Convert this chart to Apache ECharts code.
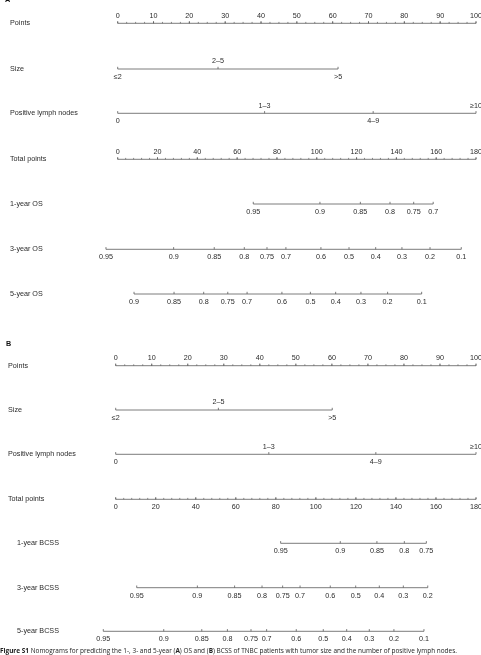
<!DOCTYPE html>
<html>
<head>
<meta charset="utf-8">
<style>
  html, body { margin: 0; padding: 0; background: #fff; }
  #chart { width: 481px; height: 655px; }
</style>
<script src="https://cdn.jsdelivr.net/npm/echarts@6/dist/echarts.min.js"></script>
</head>
<body>
<div id="chart"></div>
<script>
// values
const pointTicks = [0, 10, 20, 30, 40, 50, 60, 70, 80, 90, 100]
const totalTicks = [0, 20, 40, 60, 80, 100, 120, 140, 160, 180]

const sizeLabels = ['≤2', '2–5', '>5']
const sizePointsA = [0, 28, 61.5]
const sizePointsB = [0, 28.5, 60.1]

const nodeLabels = ['0', '1–3', '4–9', '≥10']
const nodePointsA = [0, 41, 71.3, 100]
const nodePointsB = [0, 42.5, 72.2, 100]

const os1Labels = ['0.95', '0.9', '0.85', '0.8', '0.75', '0.7']
const os1Total = [68.1, 101.6, 121.9, 136.8, 148.7, 158.5]
const os3Labels = ['0.95', '0.9', '0.85', '0.8', '0.75', '0.7', '0.6', '0.5', '0.4', '0.3', '0.2', '0.1']
const os3Total = [-5.9, 28.1, 48.5, 63.6, 75.0, 84.5, 102.1, 116.2, 129.6, 142.8, 156.9, 172.6]
const os5Labels = ['0.9', '0.85', '0.8', '0.75', '0.7', '0.6', '0.5', '0.4', '0.3', '0.2', '0.1']
const os5Total = [8.2, 28.3, 43.2, 55.3, 65.0, 82.5, 96.8, 109.5, 122.2, 135.6, 152.7]

const bcss1Labels = ['0.95', '0.9', '0.85', '0.8', '0.75']
const bcss1Total = [82.4, 112.2, 130.5, 144.2, 155.2]
const bcss3Labels = ['0.95', '0.9', '0.85', '0.8', '0.75', '0.7', '0.6', '0.5', '0.4', '0.3', '0.2']
const bcss3Total = [10.5, 40.8, 59.4, 73.1, 83.4, 92.1, 107.2, 119.9, 131.7, 143.7, 155.9]
const bcss5Labels = ['0.95', '0.9', '0.85', '0.8', '0.75', '0.7', '0.6', '0.5', '0.4', '0.3', '0.2', '0.1']
const bcss5Total = [-6.2, 24.0, 43.0, 55.8, 67.6, 75.4, 90.2, 103.7, 115.4, 126.7, 139.0, 154.0]

const FONT = '7.2px "Liberation Sans", Arial, sans-serif'
const INK = '#2a2a2a'
const LINE = '#5a5a5a'

// row layout: y is the pixel row, side is where labels go
const rowsPointsA = [
  { name: 'Points', y: 23.3, values: pointTicks, labels: pointTicks.map(String), side: 'top', minor: 2.5 },
  { name: 'Size', y: 69, values: sizePointsA, labels: sizeLabels, side: ['bottom', 'top', 'bottom'] },
  { name: 'Positive lymph nodes', y: 113.3, values: nodePointsA, labels: nodeLabels, side: ['bottom', 'top', 'bottom', 'top'] },
]
const rowsTotalA = [
  { name: 'Total points', y: 159.3, values: totalTicks, labels: totalTicks.map(String), side: 'top', minor: 4 },
  { name: '1-year OS', y: 204, values: os1Total, labels: os1Labels, side: 'bottom' },
  { name: '3-year OS', y: 249.3, values: os3Total, labels: os3Labels, side: 'bottom' },
  { name: '5-year OS', y: 294, values: os5Total, labels: os5Labels, side: 'bottom' },
]
const rowsPointsB = [
  { name: 'Points', y: 365.7, values: pointTicks, labels: pointTicks.map(String), side: 'top', minor: 2.5 },
  { name: 'Size', y: 410, values: sizePointsB, labels: sizeLabels, side: ['bottom', 'top', 'bottom'] },
  { name: 'Positive lymph nodes', y: 454.3, values: nodePointsB, labels: nodeLabels, side: ['bottom', 'top', 'bottom', 'top'] },
]
const rowsTotalB = [
  { name: 'Total points', y: 499.3, values: totalTicks, labels: totalTicks.map(String), side: 'bottom', minor: 4 },
  { name: '1-year BCSS', y: 543.3, values: bcss1Total, labels: bcss1Labels, side: 'bottom' },
  { name: '3-year BCSS', y: 587.7, values: bcss3Total, labels: bcss3Labels, side: 'bottom' },
  { name: '5-year BCSS', y: 631.3, values: bcss5Total, labels: bcss5Labels, side: 'bottom' },
]

const makeRender = (rows) => (params, api) => {
  const row = rows[api.value(2)]
  const pt = (v) => api.coord([v, row.y])
  const children = []
  const first = pt(row.values[0])
  const last = pt(row.values[row.values.length - 1])
  children.push({
    type: 'line',
    shape: { x1: first[0], y1: first[1], x2: last[0], y2: last[1] },
    style: { stroke: LINE, lineWidth: 0.8 },
  })
  if (row.minor) {
    const lo = row.values[0]
    const hi = row.values[row.values.length - 1]
    for (let v = lo; v <= hi + 1e-6; v += row.minor) {
      const c = pt(v)
      children.push({
        type: 'line',
        shape: { x1: c[0], y1: c[1], x2: c[0], y2: c[1] - 1.4 },
        style: { stroke: LINE, lineWidth: 0.7 },
      })
    }
  }
  row.values.forEach((v, i) => {
    const c = pt(v)
    children.push({
      type: 'line',
      shape: { x1: c[0], y1: c[1], x2: c[0], y2: c[1] - 2.2 },
      style: { stroke: LINE, lineWidth: 0.8 },
    })
    const side = Array.isArray(row.side) ? row.side[i] : row.side
    children.push({
      type: 'text',
      x: c[0],
      y: side === 'top' ? c[1] - 7.5 : c[1] + 8,
      style: {
        text: row.labels[i],
        font: FONT,
        fill: INK,
        align: 'center',
        verticalAlign: 'middle',
        textAlign: 'center',
        textVerticalAlign: 'middle',
      },
    })
  })
  return { type: 'group', children }
}

const rowSeries = (rows, xi, yi) => ({
  type: 'custom',
  coordinateSystem: 'cartesian2d',
  xAxisIndex: xi,
  yAxisIndex: yi,
  silent: true,
  clip: false,
  data: rows.map((r, i) => [r.values[0], r.y, i]),
  renderItem: makeRender(rows),
})

const titleText = (text, x, y, bold) => ({
  type: 'text',
  x,
  y,
  silent: true,
  style: {
    text,
    font: (bold ? 'bold ' : '') + FONT,
    fill: bold ? '#111' : INK,
    align: 'left',
    verticalAlign: 'middle',
    textAlign: 'left',
    textVerticalAlign: 'middle',
  },
})

const titles = [
  titleText('A', 5, 0.5, true),
  ...rowsPointsA.concat(rowsTotalA).map((r) => titleText(r.name, 10, r.y, false)),
  titleText('B', 6, 343.8, true),
  ...rowsPointsB.concat(rowsTotalB).map((r) => titleText(r.name, r.name.indexOf('BCSS') > 0 ? 17 : 8, r.y, false)),
  {
    type: 'text',
    x: 0,
    y: 651.5,
    silent: true,
    style: {
      text: '{b|Figure S1} Nomograms for predicting the 1-, 3- and 5-year ({b|A}) OS and ({b|B}) BCSS of TNBC patients with tumor size and the number of positive lymph nodes.',
      font: '6.45px "Open Sans", "Liberation Sans", sans-serif',
      fill: '#222',
      align: 'left',
      verticalAlign: 'middle',
      textAlign: 'left',
      textVerticalAlign: 'middle',
      rich: { b: { fontWeight: 'bold', fontSize: 6.45, fontFamily: '"Open Sans", sans-serif', fill: '#222' } },
    },
  },
]

const chart = echarts.init(document.getElementById('chart'), null, { renderer: 'canvas' })
chart.setOption({
  animation: false,
  backgroundColor: '#fff',
  grid: [
    { left: 117.7, width: 358.3, top: 0, height: 655 },
    { left: 115.7, width: 360.3, top: 0, height: 655 },
  ],
  xAxis: [
    { type: 'value', gridIndex: 0, min: 0, max: 100, show: false },
    { type: 'value', gridIndex: 0, min: 0, max: 180, show: false },
    { type: 'value', gridIndex: 1, min: 0, max: 100, show: false },
    { type: 'value', gridIndex: 1, min: 0, max: 180, show: false },
  ],
  yAxis: [
    { type: 'value', gridIndex: 0, min: 0, max: 655, inverse: true, show: false },
    { type: 'value', gridIndex: 1, min: 0, max: 655, inverse: true, show: false },
  ],
  graphic: titles,
  series: [
    rowSeries(rowsPointsA, 0, 0),
    rowSeries(rowsTotalA, 1, 0),
    rowSeries(rowsPointsB, 2, 1),
    rowSeries(rowsTotalB, 3, 1),
  ],
})
</script>
</body>
</html>
